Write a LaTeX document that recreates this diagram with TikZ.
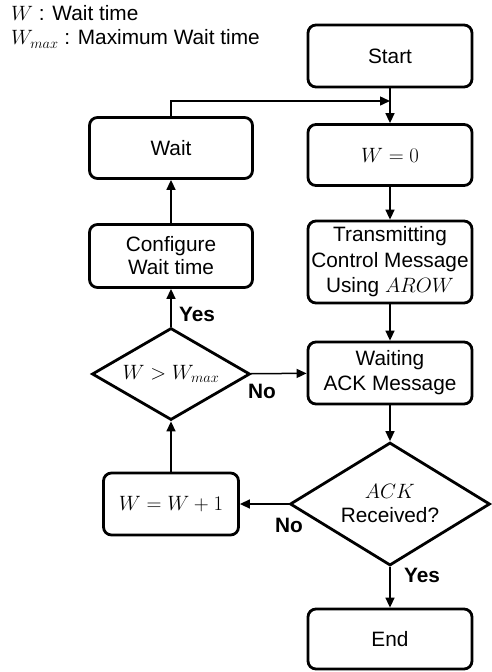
\documentclass[tikz,border=0pt]{standalone}
\usepackage{fontspec}
\setmainfont{Liberation Sans}
\usetikzlibrary{shapes.geometric,arrows.meta}
\begin{document}
\begin{tikzpicture}[x=1pt,y=-1pt,
  every node/.style={font=\fontsize{20.8}{25}\selectfont},
  box/.style={draw,line width=2.8pt,rounded corners=8pt,align=center,inner sep=0pt},
  bigbox/.style={box,minimum width=164pt},
  dia/.style={draw,diamond,line width=2.8pt,inner sep=0pt},
  arr/.style={line width=1.5pt,-{Triangle[length=10pt,width=9pt]}},
  lab/.style={font=\fontsize{20.8}{24}\selectfont\bfseries,inner sep=0pt}]
\useasboundingbox (0,0) rectangle (491,672);
% legend
\node[anchor=west,inner sep=0pt] (leg1) at (11,13) {$W$ : Wait time};
\node[anchor=west,inner sep=0pt] (leg2) at (11,39) {$W_{max}$ : Maximum Wait time};
% right column
\node[bigbox,minimum height=62pt] (start) at (390,56) {Start};
\node[bigbox,minimum height=61pt] (w0) at (390,155) {$W = 0$};
\node[bigbox,minimum height=82pt,font=\fontsize{20.8}{25.5}\selectfont] (tx) at (390,262) {Transmitting\\Control Message\\Using $AROW$};
\node[bigbox,minimum height=62pt] (wack) at (390,373) {Waiting\\ACK Message};
\node[dia,minimum width=200pt,minimum height=123pt,
  label={[align=center,font=\fontsize{20.8}{24}\selectfont]center:{$ACK$\\Received?}}] (ack) at (390,504) {};
\node[bigbox,minimum height=60pt] (end) at (390,639) {End};
% left column
\node[box,minimum width=163pt,minimum height=61pt] (wait) at (171,148) {Wait};
\node[box,minimum width=163pt,minimum height=63pt,font=\fontsize{20.8}{23}\selectfont] (conf) at (171,256) {Configure\\Wait time};
\node[dia,minimum width=158pt,minimum height=92pt,label=center:{$W > W_{max}$}] (dmax) at (171,374) {};
\node[box,minimum width=135pt,minimum height=62pt] (inc) at (171,504) {$W = W + 1$};
% connectors
\coordinate (j) at (390,101);
\draw[arr] (start) -- (w0);
\draw[arr] (wait.north) |- (j);
\draw[arr] (w0) -- (tx);
\draw[arr] (tx) -- (wack);
\draw[arr] (wack) -- (ack);
\draw[arr] (ack) -- (end);
\draw[arr] (ack) -- (inc);
\draw[arr] (inc) -- (dmax);
\draw[arr] (dmax) -- (conf);
\draw[arr] (dmax) -- (wack);
\draw[arr] (conf) -- (wait);
% labels
\node[lab] (yes1) at (197,314) {Yes};
\node[lab] (no1) at (262,391) {No};
\node[lab] (no2) at (289,525) {No};
\node[lab] (yes2) at (422,575) {Yes};
\end{tikzpicture}
\end{document}
